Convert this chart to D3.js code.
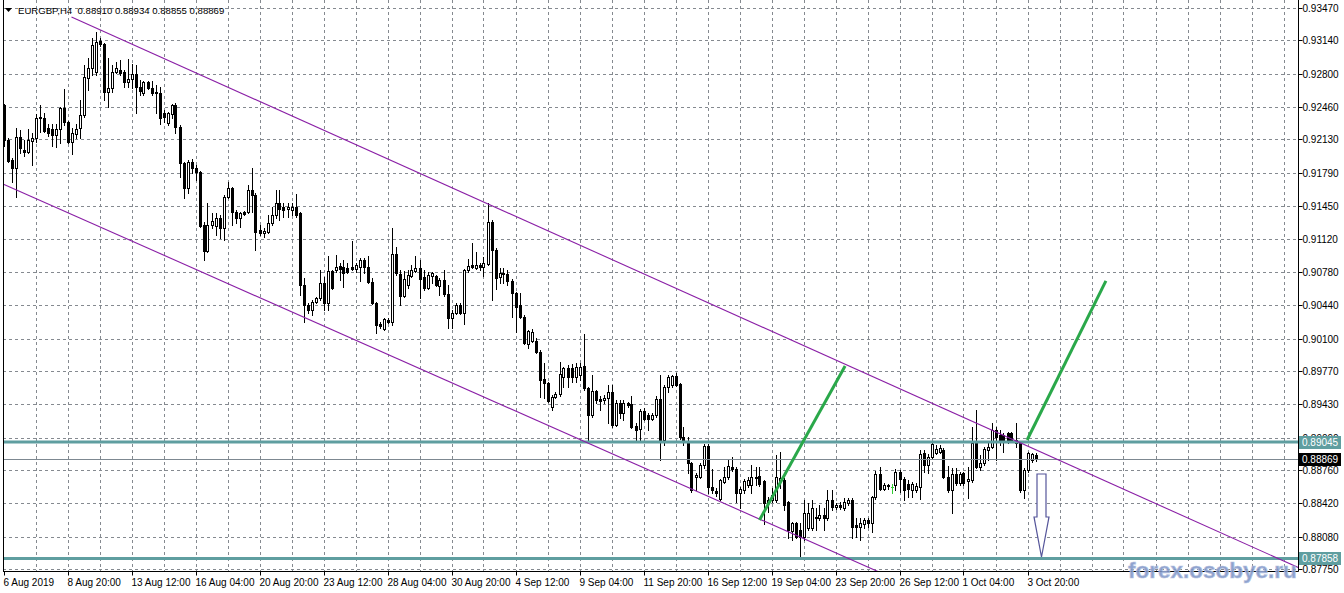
<!DOCTYPE html>
<html><head><meta charset="utf-8">
<script src="https://cdn.jsdelivr.net/npm/d3@7"></script>
<style>html,body{margin:0;padding:0;background:#fff;overflow:hidden}svg{display:block}</style>
</head><body><svg id="c" width="1344" height="593"></svg>
<script>
const symbolTitle = "EURGBP,H4";
const lastQuote = [0.88910, 0.88934, 0.88855, 0.88869];
const xTickBars = [0,16,32,48,64,80,96,112,128,144,160,176,192,208,224,240,256];
const xTickLabels = ["6 Aug 2019","8 Aug 20:00","13 Aug 12:00","16 Aug 04:00","20 Aug 20:00","23 Aug 12:00","28 Aug 04:00","30 Aug 20:00","4 Sep 12:00","9 Sep 04:00","11 Sep 20:00","16 Sep 12:00","19 Sep 04:00","23 Sep 20:00","26 Sep 12:00","1 Oct 04:00","3 Oct 20:00"];
const yTickValues = [0.93470,0.93140,0.92800,0.92460,0.92130,0.91790,0.91450,0.91120,0.90780,0.90440,0.90100,0.89770,0.89430,0.89090,0.88760,0.88420,0.88080,0.87750];

const open = [0.92483,0.92126,0.91922,0.91840,0.92157,0.92024,0.92004,0.92116,0.92146,0.92350,0.92350,0.92248,0.92238,0.92177,0.92238,0.92452,0.92310,0.92106,0.92187,0.92248,0.92381,0.92758,0.92860,0.92820,0.93136,0.93105,0.92616,0.92656,0.92820,0.92840,0.92820,0.92718,0.92748,0.92799,0.92667,0.92605,0.92718,0.92656,0.92605,0.92605,0.92401,0.92299,0.92391,0.92483,0.92259,0.91891,0.91636,0.91902,0.91840,0.91800,0.91259,0.90994,0.91259,0.91249,0.91330,0.91228,0.91545,0.91636,0.91392,0.91330,0.91392,0.91392,0.91616,0.91565,0.91208,0.91177,0.91188,0.91279,0.91361,0.91483,0.91443,0.91422,0.91412,0.91443,0.91381,0.90647,0.90443,0.90392,0.90474,0.90514,0.90667,0.90463,0.90790,0.90800,0.90841,0.90831,0.90820,0.90831,0.90810,0.90831,0.90902,0.90831,0.90678,0.90463,0.90249,0.90198,0.90290,0.90270,0.90963,0.90759,0.90535,0.90647,0.90739,0.90790,0.90820,0.90729,0.90616,0.90739,0.90739,0.90637,0.90698,0.90555,0.90310,0.90361,0.90443,0.90361,0.90800,0.90851,0.90820,0.90851,0.90831,0.90861,0.91290,0.91004,0.90729,0.90769,0.90759,0.90688,0.90565,0.90443,0.90321,0.90045,0.90076,0.90076,0.89964,0.89688,0.89647,0.89403,0.89505,0.89535,0.89709,0.89800,0.89800,0.89709,0.89729,0.89821,0.89596,0.89321,0.89566,0.89484,0.89474,0.89494,0.89556,0.89219,0.89443,0.89341,0.89443,0.89433,0.89209,0.89178,0.89362,0.89321,0.89280,0.89321,0.89484,0.89066,0.89607,0.89627,0.89719,0.89637,0.89097,0.89046,0.88831,0.88689,0.88689,0.88811,0.89005,0.88587,0.88546,0.88464,0.88638,0.88689,0.88791,0.88770,0.88525,0.88556,0.88607,0.88607,0.88689,0.88699,0.88648,0.88423,0.88454,0.88454,0.88648,0.88658,0.88434,0.88138,0.88219,0.88148,0.88077,0.88168,0.88168,0.88281,0.88270,0.88301,0.88270,0.88454,0.88383,0.88403,0.88372,0.88423,0.88454,0.88199,0.88179,0.88209,0.88250,0.88219,0.88485,0.88719,0.88566,0.88597,0.88587,0.88607,0.88740,0.88668,0.88617,0.88556,0.88556,0.88587,0.88933,0.88811,0.88893,0.88933,0.88944,0.88964,0.88689,0.88556,0.88719,0.88627,0.88729,0.88648,0.88658,0.89035,0.88791,0.88831,0.88964,0.88995,0.89168,0.89117,0.89117,0.89137,0.89137,0.89035,0.89035,0.88556,0.88760,0.88862,0.88910];
const high = [0.92493,0.92146,0.91942,0.92248,0.92228,0.92126,0.92238,0.92197,0.92391,0.92483,0.92401,0.92289,0.92289,0.92289,0.92463,0.92646,0.92320,0.92248,0.92289,0.92534,0.92891,0.92962,0.93166,0.93228,0.93166,0.93115,0.92962,0.92891,0.92922,0.92942,0.92840,0.92952,0.92901,0.92891,0.92738,0.92728,0.92728,0.92728,0.92687,0.92667,0.92432,0.92412,0.92493,0.92503,0.92279,0.91902,0.91922,0.91932,0.91871,0.91810,0.91290,0.91483,0.91381,0.91381,0.91361,0.91565,0.91698,0.91647,0.91412,0.91392,0.91402,0.91667,0.91840,0.91585,0.91259,0.91228,0.91361,0.91443,0.91616,0.91616,0.91483,0.91483,0.91483,0.91575,0.91392,0.90718,0.90463,0.90494,0.90525,0.90800,0.90729,0.90943,0.90800,0.90953,0.90871,0.90902,0.90871,0.91096,0.90871,0.90922,0.90922,0.90943,0.90718,0.90474,0.90270,0.90310,0.90310,0.91228,0.91035,0.90800,0.90790,0.90800,0.90851,0.90943,0.90902,0.90800,0.90780,0.90780,0.90749,0.90718,0.90800,0.90647,0.90392,0.90463,0.90463,0.90810,0.90912,0.91075,0.90984,0.90871,0.90933,0.91483,0.91310,0.91024,0.90820,0.90820,0.90800,0.90708,0.90576,0.90565,0.90341,0.90188,0.90198,0.90106,0.89984,0.89851,0.89658,0.89525,0.89556,0.89862,0.89811,0.89831,0.89841,0.89851,0.89851,0.90147,0.89607,0.89729,0.89576,0.89515,0.89525,0.89627,0.89627,0.89474,0.89474,0.89474,0.89454,0.89515,0.89239,0.89382,0.89392,0.89341,0.89341,0.89515,0.89729,0.89627,0.89729,0.89729,0.89749,0.89647,0.89199,0.89097,0.88842,0.88729,0.88831,0.89025,0.89025,0.88770,0.88576,0.88668,0.88791,0.88862,0.88893,0.88791,0.88587,0.88668,0.88689,0.88811,0.88791,0.88791,0.88658,0.88485,0.88576,0.88913,0.88944,0.88678,0.88444,0.88230,0.88230,0.88219,0.88454,0.88423,0.88454,0.88372,0.88403,0.88372,0.88556,0.88556,0.88423,0.88434,0.88474,0.88474,0.88474,0.88270,0.88270,0.88270,0.88270,0.88495,0.88750,0.88791,0.88627,0.88617,0.88617,0.88770,0.88760,0.88689,0.88658,0.88638,0.88627,0.88964,0.88964,0.88923,0.89046,0.89015,0.89015,0.88984,0.88801,0.88780,0.88780,0.88740,0.88740,0.88791,0.89199,0.89372,0.88913,0.88995,0.89035,0.89239,0.89199,0.89168,0.89137,0.89148,0.89148,0.89239,0.89046,0.88780,0.88944,0.88933,0.88934];
const low = [0.92065,0.91902,0.91698,0.91545,0.91993,0.91963,0.91993,0.91871,0.92106,0.92208,0.92208,0.92167,0.92065,0.92055,0.92095,0.92279,0.92095,0.91983,0.92146,0.92146,0.92361,0.92636,0.92789,0.92789,0.93085,0.92534,0.92463,0.92616,0.92809,0.92789,0.92667,0.92667,0.92656,0.92401,0.92585,0.92585,0.92646,0.92585,0.92401,0.92289,0.92310,0.92279,0.92350,0.92197,0.91749,0.91534,0.91585,0.91789,0.91718,0.91239,0.90902,0.90984,0.91228,0.91157,0.91126,0.91106,0.91534,0.91259,0.91279,0.91239,0.91361,0.91381,0.91392,0.91004,0.91157,0.91137,0.91177,0.91259,0.91330,0.91310,0.91341,0.91341,0.91361,0.91341,0.90545,0.90270,0.90361,0.90341,0.90463,0.90494,0.90392,0.90392,0.90606,0.90780,0.90698,0.90627,0.90769,0.90800,0.90780,0.90688,0.90769,0.90667,0.90453,0.90157,0.90208,0.90188,0.90259,0.90239,0.90749,0.90443,0.90525,0.90616,0.90729,0.90780,0.90514,0.90596,0.90606,0.90667,0.90637,0.90545,0.90535,0.90208,0.90208,0.90351,0.90351,0.90249,0.90780,0.90820,0.90810,0.90800,0.90739,0.90851,0.90494,0.90606,0.90667,0.90667,0.90647,0.90321,0.90168,0.90310,0.90045,0.90004,0.90066,0.89953,0.89505,0.89494,0.89454,0.89372,0.89494,0.89515,0.89607,0.89607,0.89658,0.89658,0.89678,0.89576,0.89056,0.89301,0.89443,0.89372,0.89443,0.89239,0.89199,0.89209,0.89290,0.89270,0.89403,0.89188,0.89066,0.89066,0.89270,0.89168,0.89270,0.89301,0.88862,0.89015,0.89556,0.89607,0.89617,0.89076,0.89015,0.88729,0.88536,0.88556,0.88678,0.88780,0.88525,0.88525,0.88495,0.88454,0.88627,0.88668,0.88750,0.88434,0.88372,0.88525,0.88587,0.88525,0.88607,0.88597,0.88209,0.88332,0.88434,0.88434,0.88576,0.88352,0.88066,0.88046,0.88066,0.87873,0.88046,0.88148,0.88148,0.88148,0.88250,0.88148,0.88250,0.88352,0.88362,0.88362,0.88352,0.88403,0.88066,0.88077,0.88046,0.88168,0.88179,0.88128,0.88464,0.88556,0.88556,0.88566,0.88525,0.88556,0.88536,0.88454,0.88485,0.88485,0.88536,0.88464,0.88740,0.88729,0.88882,0.88923,0.88933,0.88678,0.88536,0.88321,0.88607,0.88607,0.88607,0.88474,0.88638,0.88780,0.88760,0.88811,0.88862,0.88984,0.88862,0.89015,0.88944,0.89035,0.89046,0.88995,0.88536,0.88474,0.88740,0.88842,0.88855];
const close = [0.92126,0.91912,0.91840,0.92157,0.92044,0.92004,0.92126,0.92146,0.92350,0.92361,0.92218,0.92197,0.92177,0.92238,0.92452,0.92310,0.92106,0.92197,0.92238,0.92381,0.92769,0.92860,0.93095,0.93126,0.93105,0.92616,0.92656,0.92820,0.92860,0.92809,0.92718,0.92748,0.92799,0.92667,0.92626,0.92718,0.92656,0.92605,0.92616,0.92350,0.92361,0.92401,0.92483,0.92259,0.91891,0.91636,0.91902,0.91840,0.91800,0.91249,0.90994,0.91259,0.91300,0.91330,0.91228,0.91545,0.91636,0.91392,0.91330,0.91381,0.91371,0.91616,0.91565,0.91188,0.91177,0.91198,0.91279,0.91361,0.91483,0.91422,0.91412,0.91443,0.91443,0.91361,0.90647,0.90443,0.90392,0.90474,0.90514,0.90667,0.90463,0.90790,0.90616,0.90831,0.90810,0.90769,0.90780,0.90810,0.90851,0.90902,0.90831,0.90678,0.90463,0.90239,0.90229,0.90300,0.90270,0.90963,0.90769,0.90535,0.90708,0.90749,0.90800,0.90820,0.90708,0.90616,0.90749,0.90769,0.90647,0.90698,0.90555,0.90310,0.90361,0.90443,0.90361,0.90800,0.90841,0.90831,0.90851,0.90831,0.90871,0.91290,0.91004,0.90718,0.90769,0.90759,0.90688,0.90565,0.90423,0.90321,0.90055,0.90178,0.90168,0.89964,0.89678,0.89647,0.89464,0.89505,0.89535,0.89739,0.89800,0.89709,0.89709,0.89811,0.89811,0.89596,0.89321,0.89566,0.89474,0.89464,0.89494,0.89556,0.89219,0.89443,0.89341,0.89443,0.89423,0.89199,0.89168,0.89362,0.89280,0.89280,0.89321,0.89484,0.89056,0.89607,0.89709,0.89719,0.89627,0.89097,0.89046,0.88831,0.88556,0.88709,0.88811,0.89005,0.88587,0.88556,0.88525,0.88658,0.88689,0.88801,0.88770,0.88525,0.88566,0.88648,0.88658,0.88689,0.88678,0.88617,0.88423,0.88454,0.88505,0.88689,0.88678,0.88403,0.88148,0.88219,0.88077,0.88077,0.88321,0.88321,0.88372,0.88270,0.88301,0.88270,0.88454,0.88383,0.88403,0.88383,0.88434,0.88454,0.88179,0.88179,0.88219,0.88250,0.88219,0.88485,0.88719,0.88566,0.88607,0.88607,0.88587,0.88740,0.88668,0.88556,0.88566,0.88617,0.88597,0.88923,0.88811,0.88893,0.89025,0.88974,0.88984,0.88689,0.88556,0.88719,0.88627,0.88719,0.88627,0.88668,0.89035,0.88791,0.88831,0.88974,0.88995,0.89168,0.89097,0.89066,0.89066,0.89066,0.89066,0.89066,0.88556,0.88760,0.88933,0.88923,0.88869];

// drawing objects (bar index, price)
const upperChannel = [[17, 0.93378], [250, 0.89114]];
const lowerChannel = [[0, 0.91674], [200, 0.88061]];
const greenLine1 = [[189.0, 0.88250], [210.4, 0.89821]];
const greenLine2 = [[255.9, 0.89066], [275.6, 0.90688]];
const levelLines = [0.89045, 0.87858];
const bidPrice = 0.88869;
const arrowDown = {bar: 259.5, top: 0.88719, neck: 0.88281, tip: 0.87873};
const watermark = "forex.osobye.ru";

const W = 1344, H = 593;
const L = 3, R = 1298, T = 0, B = 571;
const svg = d3.select("#c");
const x = d3.scaleLinear().domain([0, 258]).range([3.5, 1035.5]);
const y = d3.scaleLinear().domain([0.8876, 0.9347]).range([470, 8]);
const FONT = "'Liberation Sans', Arial, sans-serif";

svg.append("rect").attr("width", W).attr("height", H).attr("fill", "#fff");
const defs = svg.append("defs");
defs.append("clipPath").attr("id", "plot").append("rect").attr("x", L).attr("y", T).attr("width", R - L).attr("height", B - T);

const g = svg.append("g").attr("clip-path", "url(#plot)");
const gridColor = "#858a90";
const vBars = d3.range(8, 330, 8).filter(b => x(b) < R);
g.selectAll(".vg").data(vBars).join("line")
  .attr("x1", d => Math.round(x(d)) + 0.5).attr("x2", d => Math.round(x(d)) + 0.5)
  .attr("y1", T).attr("y2", B)
  .attr("stroke", gridColor).attr("stroke-width", 1).attr("stroke-dasharray", "3,3");
g.selectAll(".hg").data(yTickValues).join("line")
  .attr("x1", L).attr("x2", R)
  .attr("y1", d => Math.round(y(d)) + 0.5).attr("y2", d => Math.round(y(d)) + 0.5)
  .attr("stroke", gridColor).attr("stroke-width", 1).attr("stroke-dasharray", "3,3");

// candles
const idx = d3.range(open.length);
const px = i => Math.round(x(i)) + 0.5;
g.selectAll(".wick").data(idx).join("line")
  .attr("x1", px).attr("x2", px)
  .attr("y1", i => Math.round(y(high[i]))).attr("y2", i => Math.round(y(low[i])) + 1)
  .attr("stroke", i => open[i] === close[i] ? "#33cc33" : "#000").attr("stroke-width", 1);
g.selectAll(".bear").data(idx.filter(i => close[i] < open[i])).join("rect")
  .attr("x", i => px(i) - 1.5).attr("width", 3)
  .attr("y", i => Math.round(y(open[i])))
  .attr("height", i => Math.max(1, Math.round(y(close[i])) - Math.round(y(open[i])) + 1))
  .attr("fill", "#000");
g.selectAll(".bull").data(idx.filter(i => close[i] > open[i])).join("rect")
  .attr("x", i => px(i) - 1).attr("width", 2)
  .attr("y", i => Math.round(y(close[i])) + 0.5)
  .attr("height", i => Math.max(0, Math.round(y(open[i])) - Math.round(y(close[i]))))
  .attr("fill", "#fff").attr("stroke", "#000").attr("stroke-width", 1);
g.selectAll(".doji").data(idx.filter(i => close[i] === open[i])).join("line")
  .attr("x1", i => px(i) - 1.5).attr("x2", i => px(i) + 1.5)
  .attr("y1", i => Math.round(y(open[i])) + 0.5).attr("y2", i => Math.round(y(open[i])) + 0.5)
  .attr("stroke", "#33cc33");

// bid line
g.append("line").attr("x1", L).attr("x2", R)
  .attr("y1", Math.round(y(bidPrice)) + 0.5).attr("y2", Math.round(y(bidPrice)) + 0.5)
  .attr("stroke", "#7d8891").attr("stroke-width", 1);

// horizontal levels
g.selectAll(".lvl").data(levelLines).join("line")
  .attr("x1", L).attr("x2", R).attr("y1", d => y(d)).attr("y2", d => y(d))
  .attr("stroke", "#5f9ea0").attr("stroke-width", 3);

// channel rays
const xEnd = x.invert(R + 2);
function ray(pts) {
  const [a, b] = pts;
  const k = (b[1] - a[1]) / (b[0] - a[0]);
  return [a, [xEnd, a[1] + k * (xEnd - a[0])]];
}
const lineGen = d3.line().x(d => x(d[0])).y(d => y(d[1]));
[upperChannel, lowerChannel].forEach(p => {
  g.append("path").attr("d", lineGen(ray(p))).attr("fill", "none")
    .attr("stroke", "#8a1fa6").attr("stroke-width", 1.1);
});
[greenLine1, greenLine2].forEach(p => {
  g.append("path").attr("d", lineGen(p)).attr("fill", "none")
    .attr("stroke", "#2aa84a").attr("stroke-width", 3).attr("stroke-linecap", "butt");
});

// down arrow
const ax = x(arrowDown.bar);
const arrowPts = [
  [ax - 4.5, y(arrowDown.top)], [ax + 4.5, y(arrowDown.top)], [ax + 4.5, y(arrowDown.neck)],
  [ax + 7.5, y(arrowDown.neck)], [ax, y(arrowDown.tip)], [ax - 7.5, y(arrowDown.neck)],
  [ax - 4.5, y(arrowDown.neck)]
];
g.append("path").attr("d", "M" + arrowPts.map(p => p.join(",")).join("L") + "Z")
  .attr("fill", "#fff").attr("stroke", "#55559a").attr("stroke-width", 1.2);

// frame
svg.append("line").attr("x1", L + 0.5).attr("x2", L + 0.5).attr("y1", T).attr("y2", B + 0.5).attr("stroke", "#000");
svg.append("line").attr("x1", L).attr("x2", R + 0.5).attr("y1", B + 0.5).attr("y2", B + 0.5).attr("stroke", "#000");
svg.append("line").attr("x1", R + 0.5).attr("x2", R + 0.5).attr("y1", T).attr("y2", B + 0.5).attr("stroke", "#000");

// right axis (the 0.89090 label sits under the level tag, as in the reference)
const yAxis = d3.axisRight(y).tickValues(yTickValues).tickFormat(d3.format(".5f")).tickSize(4).tickPadding(0);
const ya = svg.append("g").attr("transform", `translate(${R + 0.5},0)`).call(yAxis);
ya.select(".domain").remove();
ya.selectAll(".tick line").attr("stroke", "#000");
ya.selectAll(".tick").attr("transform", d => `translate(0,${Math.round(y(d)) + 0.5})`);
ya.selectAll("text").attr("x", 4).attr("dy", "0.33em").attr("font-family", FONT).attr("font-size", "10px").attr("fill", "#000");

// bottom axis
const xAxis = d3.axisBottom(x).tickValues(xTickBars).tickFormat((d, i) => xTickLabels[i]).tickSize(4).tickPadding(0);
const xa = svg.append("g").attr("transform", `translate(0,${B + 0.5})`).call(xAxis);
xa.select(".domain").remove();
xa.selectAll(".tick").attr("transform", d => `translate(${Math.round(x(d)) + 0.5},0)`);
xa.selectAll(".tick line").attr("stroke", "#000");
xa.selectAll("text").attr("text-anchor", "start").attr("x", -1).attr("y", 14).attr("dy", null)
  .attr("font-family", FONT).attr("font-size", "10px").attr("fill", "#000");

// price tags on axis
function tag(price, fill) {
  const yy = Math.round(y(price));
  svg.append("rect").attr("x", R + 1).attr("y", yy - 6).attr("width", 42).attr("height", 13).attr("fill", fill);
  svg.append("text").attr("x", R + 4).attr("y", yy + 4).attr("font-family", FONT).attr("font-size", "10px")
    .attr("fill", "#fff").text(d3.format(".5f")(price));
}
levelLines.forEach(p => tag(p, "#5f9ea0"));
tag(bidPrice, "#000");

// header
svg.append("path").attr("d", "M5,8 L12,8 L8.5,12 Z").attr("fill", "#000");
svg.append("text").attr("x", 18).attr("y", 13.5).attr("font-family", FONT).attr("font-size", "9.6px").attr("fill", "#000")
  .attr("xml:space", "preserve")
  .text(symbolTitle + "  " + lastQuote.map(d3.format(".5f")).join(" "));

// watermark
svg.append("text").attr("x", 1128).attr("y", 578).attr("font-family", FONT).attr("font-weight", "bold")
  .attr("font-size", "22.5px").attr("fill", "#7f95c6").attr("fill-opacity", 0.9)
  .attr("stroke", "#b6c3e2").attr("stroke-width", 0.7).text(watermark);
</script></body></html>
